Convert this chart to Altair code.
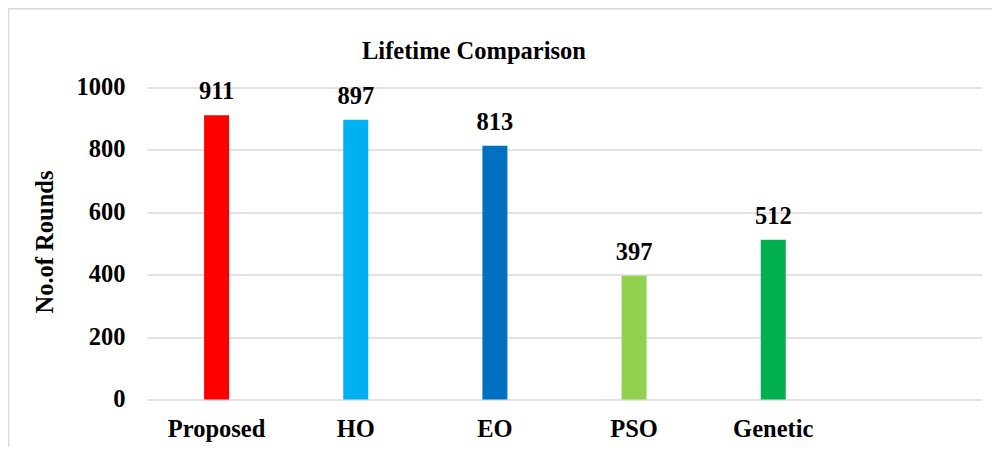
import altair as alt
import pandas as pd

categories = ["Proposed", "HO", "EO", "PSO", "Genetic"]
values = [911, 897, 813, 397, 512]
colors = ["#FF0000", "#00B0F0", "#0070C0", "#92D050", "#00B050"]
y_ticks = [0, 200, 400, 600, 800, 1000]

FONT = "Liberation Serif"

df = pd.DataFrame({"cat": categories, "val": values})
domain = categories + [""]

x_enc = alt.X("cat:N", sort=domain,
              scale=alt.Scale(domain=domain, paddingInner=0, paddingOuter=0),
              axis=alt.Axis(title=None, labelAngle=0, labelFont=FONT, labelFontSize=24.5,
                            labelFontWeight="bold", labelColor="black", labelPadding=18,
                            ticks=False, domain=False, grid=False))
y_enc = alt.Y("val:Q", scale=alt.Scale(domain=[0, 1000], nice=False),
              axis=alt.Axis(title="No.of Rounds", values=y_ticks, format="d", labelFont=FONT,
                            labelFontSize=24.5, labelFontWeight="bold", labelColor="black",
                            labelPadding=22, ticks=False, domain=False,
                            gridColor="#d9d9d9", gridWidth=1.5,
                            titleFont=FONT, titleFontSize=24.5, titleFontWeight="bold",
                            titleColor="black", titleAngle=270, titleBaseline="alphabetic",
                            titleAlign="center", titleX=-95, titleY=154))

bars = alt.Chart(df).mark_bar(size=25).encode(
    x=x_enc,
    y=y_enc,
    color=alt.Color("cat:N", scale=alt.Scale(domain=categories, range=colors), legend=None),
)

labels = alt.Chart(df).mark_text(font=FONT, fontSize=24.5, fontWeight="bold", color="black",
                                 baseline="alphabetic", dy=-16).encode(
    x=alt.X("cat:N", sort=domain),
    y="val:Q",
    text="val:Q",
)

border = alt.Chart(alt.Data(values=[{"a": 1}])).mark_rect(
    filled=False, stroke="#d9d9d9", strokeWidth=1.5
).encode(
    x=alt.value(-138.5), x2=alt.value(860),
    y=alt.value(-78.7), y2=alt.value(380),
)

chart = alt.layer(border, bars, labels).properties(
    width=835, height=312,
    padding={"left": 139, "top": 79.5, "right": 10, "bottom": 47},
    autosize=alt.AutoSizeParams(type="none"),
    title=alt.TitleParams("Lifetime Comparison", anchor="start", frame="group", dx=215,
                          font=FONT, fontSize=24.5, fontWeight="bold", color="black",
                          baseline="alphabetic", offset=-75),
).configure_view(stroke=None)

chart.save("out.html", embed_options={"renderer": "svg", "actions": False})
